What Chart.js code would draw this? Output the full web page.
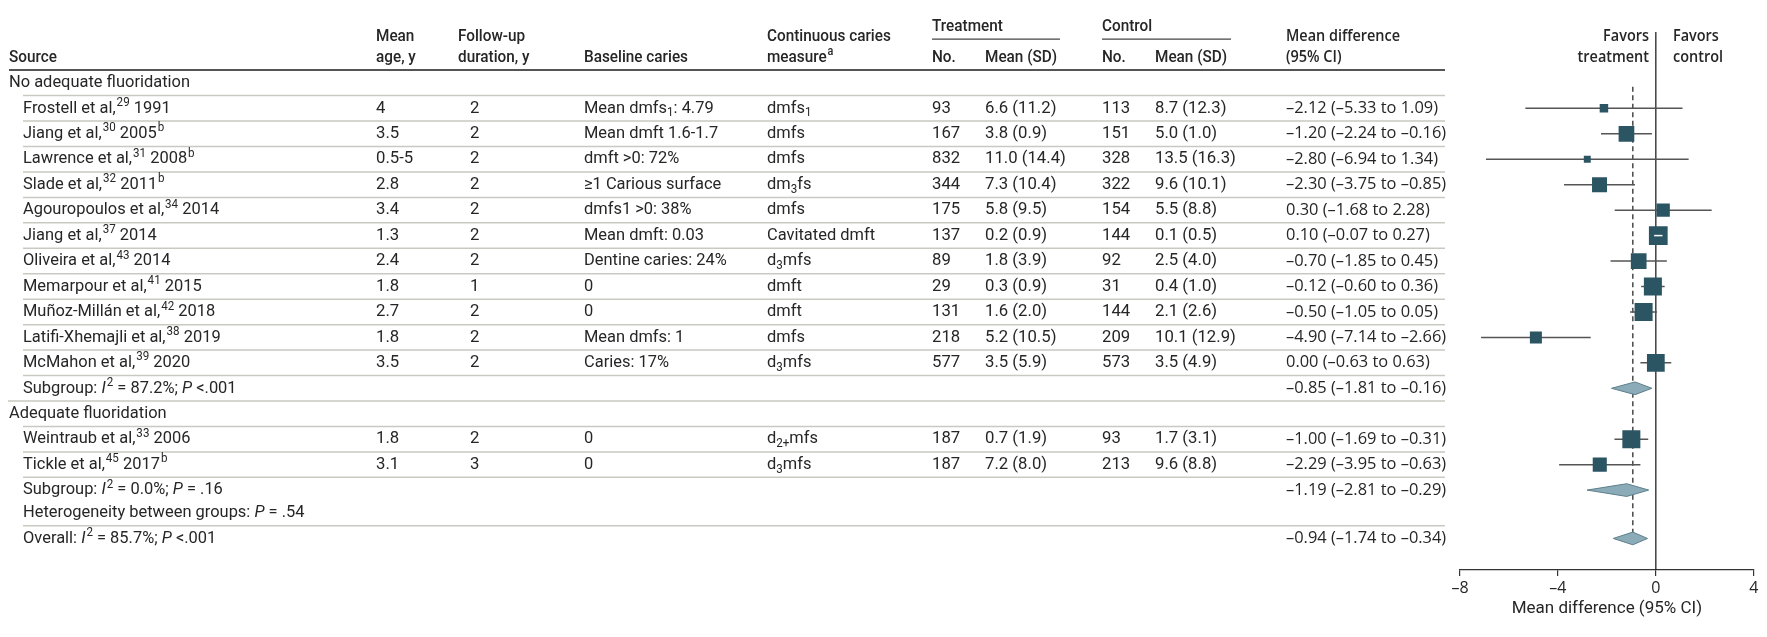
<!DOCTYPE html>
<html>
<head>
<meta charset="utf-8">
<script src="https://cdn.jsdelivr.net/npm/chart.js@4.4.0/dist/chart.umd.min.js"></script>
<style>
  html, body { margin: 0; padding: 0; background: #fff; }
  #wrap { width: 1767px; height: 637px; position: relative; }
</style>
</head>
<body>
<div id="wrap"><canvas id="forest"></canvas></div>
<script>
// ---- data ----
const studies = ['Frostell et al,^{29} 1991', 'Jiang et al,^{30} 2005^{b}', 'Lawrence et al,^{31} 2008^{b}',
    'Slade et al,^{32} 2011^{b}', 'Agouropoulos et al,^{34} 2014', 'Jiang et al,^{37} 2014',
    'Oliveira et al,^{43} 2014', 'Memarpour et al,^{41} 2015', 'Muñoz-Millán et al,^{42} 2018',
    'Latifi-Xhemajli et al,^{38} 2019', 'McMahon et al,^{39} 2020', 'Weintraub et al,^{33} 2006',
    'Tickle et al,^{45} 2017^{b}'];
const meanAge = ['4', '3.5', '0.5-5', '2.8', '3.4', '1.3', '2.4', '1.8', '2.7', '1.8', '3.5', '1.8', '3.1'];
const followUp = ['2', '2', '2', '2', '2', '2', '2', '1', '2', '2', '2', '2', '3'];
const baseline = ['Mean dmfs_{1}: 4.79', 'Mean dmft 1.6-1.7', 'dmft >0: 72%', '≥1 Carious surface',
    'dmfs1 >0: 38%', 'Mean dmft: 0.03', 'Dentine caries: 24%', '0', '0', 'Mean dmfs: 1', 'Caries: 17%', '0', '0'];
const measure = ['dmfs_{1}', 'dmfs', 'dmfs', 'dm_{3}fs', 'dmfs', 'Cavitated dmft', 'd_{3}mfs', 'dmft', 'dmft',
    'dmfs', 'd_{3}mfs', 'd_{2+}mfs', 'd_{3}mfs'];
const trtN = [93, 167, 832, 344, 175, 137, 89, 29, 131, 218, 577, 187, 187];
const trtMean = ['6.6 (11.2)', '3.8 (0.9)', '11.0 (14.4)', '7.3 (10.4)', '5.8 (9.5)', '0.2 (0.9)', '1.8 (3.9)',
    '0.3 (0.9)', '1.6 (2.0)', '5.2 (10.5)', '3.5 (5.9)', '0.7 (1.9)', '7.2 (8.0)'];
const ctlN = [113, 151, 328, 322, 154, 144, 92, 31, 144, 209, 573, 93, 213];
const ctlMean = ['8.7 (12.3)', '5.0 (1.0)', '13.5 (16.3)', '9.6 (10.1)', '5.5 (8.8)', '0.1 (0.5)', '2.5 (4.0)',
    '0.4 (1.0)', '2.1 (2.6)', '10.1 (12.9)', '3.5 (4.9)', '1.7 (3.1)', '9.6 (8.8)'];
const md   = [-2.12, -1.20, -2.80, -2.30, 0.30, 0.10, -0.70, -0.12, -0.50, -4.90, 0.00, -1.00, -2.29];
const mdLo = [-5.33, -2.24, -6.94, -3.75, -1.68, -0.07, -1.85, -0.60, -1.05, -7.14, -0.63, -1.69, -3.95];
const mdHi = [1.09, -0.16, 1.34, -0.85, 2.28, 0.27, 0.45, 0.36, 0.05, -2.66, 0.63, -0.31, -0.63];
const weights = [2.4, 8.2, 1.6, 7.5, 5.9, 11.7, 8.2, 10.8, 10.8, 4.8, 10.5, 10.8, 6.6];

const groups = ['No adequate fluoridation', 'Adequate fluoridation'];
const summaryLabels = ['Subgroup: *I*^{2} = 87.2%; *P* <.001', 'Subgroup: *I*^{2} = 0.0%; *P* = .16',
    'Overall: *I*^{2} = 85.7%; *P* <.001'];
const hetLabel = 'Heterogeneity between groups: *P* = .54';
const sumEst = [-0.85, -1.19, -0.94];
const sumLo  = [-1.81, -2.81, -1.74];
const sumHi  = [-0.16, -0.29, -0.34];
const xTicks = [-8, -4, 0, 4];

// ---- layout ----
const STUDY_ROWS = [1, 2, 3, 4, 5, 6, 7, 8, 9, 10, 11, 14, 15];
const GROUP_ROWS = [0, 13];
const SUMMARY_ROWS = [12, 16, 17.9];
const HET_ROW = 16.9;
const SEPARATORS = [[0.5, 23], [1.5, 23], [2.5, 23], [3.5, 23], [4.5, 23], [5.5, 23], [6.5, 23], [7.5, 23],
    [8.5, 23], [9.5, 23], [10.5, 23], [11.5, 23], [12.5, 8], [13.5, 23], [14.5, 23], [15.5, 23], [17.4, 23]];
const HDR1 = -1.83, HDR2 = -1.0, HDR_TOP = -2.21, HDR_UNDER = -1.72, HDR_RULE = -0.51;
const COL = { source: 9, study: 23, age: 376, follow: 458, followVal: 470, base: 584, measure: 767,
    tN: 932, tMean: 985, tEnd: 1060, cN: 1102, cMean: 1155, cEnd: 1231, md: 1286, tableEnd: 1445,
    favT: 1649, favC: 1673 };

const TEXT = '#262626';
const LEFT_FONT = 'Roboto, "Noto Sans", sans-serif';
const RIGHT_FONT = '"Open Sans", "Noto Sans", sans-serif';
const SQUARE = '#2c5563';
const DIAMOND_FILL = '#8aabb7';
const DIAMOND_LINE = '#5d7f8b';
const DIAMOND_HALF = 0.25;

function fmt(v) { return v.toFixed(2).replace('-', '–'); }
function sideFor(w) { return 5.48 * Math.sqrt(w); }

function parseRich(s) {
    const out = [];
    let i = 0, buf = '', it = false;
    const flush = () => { if (buf) { out.push({ t: buf, it: it }); buf = ''; } };
    while (i < s.length) {
        const c = s[i];
        if ((c === '^' || c === '_') && s[i + 1] === '{') {
            flush();
            const end = s.indexOf('}', i);
            out.push({ t: s.slice(i + 2, end), sup: c === '^', sub: c === '_', it: it });
            i = end + 1;
        } else if (c === '*') { flush(); it = !it; i++; }
        else { buf += c; i++; }
    }
    flush();
    return out;
}

function richText(ctx, str, x, y, o) {
    const parts = parseRich(String(str));
    const fontFor = p => (p.it ? 'italic ' : '') + (o.weight || 400) + ' ' +
        ((p.sup || p.sub) ? Math.round(o.size * 0.7) : o.size) + 'px ' + o.family;
    let w = 0;
    parts.forEach(p => { ctx.font = fontFor(p); p.w = ctx.measureText(p.t).width; w += p.w; });
    ctx.save();
    ctx.translate(x - (o.align === 'right' ? w * o.sx : 0), y);
    ctx.scale(o.sx, 1);
    ctx.textBaseline = 'middle';
    ctx.textAlign = 'left';
    ctx.fillStyle = TEXT;
    let cx = 0;
    parts.forEach(p => {
        ctx.font = fontFor(p);
        const dy = p.sup ? -o.size * 0.32 : p.sub ? o.size * 0.3 : 0;
        ctx.fillText(p.t, cx + (p.sup && cx > 0 ? 1 : 0), dy);
        cx += p.w + (p.sup ? 1 : 0);
    });
    ctx.restore();
}

function hline(ctx, x0, x1, y) {
    ctx.beginPath(); ctx.moveTo(x0, y); ctx.lineTo(x1, y); ctx.stroke();
}

function fitScale(ctx, font, sample, target) {
    ctx.font = font;
    return target / ctx.measureText(sample).width;
}

const tablePlugin = {
    id: 'forestTable',
    beforeDatasetsDraw(chart) {
        const ctx = chart.ctx, y = chart.scales.y;
        ctx.save();
        ctx.strokeStyle = '#c9c9c2'; ctx.lineWidth = 1.5;
        SEPARATORS.forEach(s => hline(ctx, s[1], COL.tableEnd, y.getPixelForValue(s[0])));
        ctx.strokeStyle = '#555'; ctx.lineWidth = 2;
        hline(ctx, COL.source, COL.tableEnd, y.getPixelForValue(HDR_RULE));
        ctx.strokeStyle = '#444'; ctx.lineWidth = 1.3;
        hline(ctx, COL.tN, COL.tEnd, y.getPixelForValue(HDR_UNDER));
        hline(ctx, COL.cN, COL.cEnd, y.getPixelForValue(HDR_UNDER));
        ctx.restore();
    },
    afterDatasetsDraw(chart) {
        // CI that fits inside its square is shown as a white bar
        const ctx = chart.ctx, x = chart.scales.x, y = chart.scales.y;
        ctx.save();
        ctx.strokeStyle = '#ffffff'; ctx.lineWidth = 1.5;
        md.forEach((m, i) => {
            const a = x.getPixelForValue(mdLo[i]), b = x.getPixelForValue(mdHi[i]);
            if (b - a < sideFor(weights[i]) - 2) hline(ctx, a, b, y.getPixelForValue(STUDY_ROWS[i]));
        });
        ctx.restore();
    },
    afterDraw(chart) {
        const ctx = chart.ctx, y = chart.scales.y;
        const sxL = fitScale(ctx, '400 17px ' + LEFT_FONT, 'No adequate fluoridation', 181);
        const sxN = fitScale(ctx, '400 17px ' + LEFT_FONT, '6.6 (11.2)', 71.5);
        const sxH = fitScale(ctx, '500 17px ' + LEFT_FONT, 'Baseline caries', 104);
        const sxR = fitScale(ctx, '400 16px ' + RIGHT_FONT, '–2.12 (–5.33 to 1.09)', 152);
        const sxRH = fitScale(ctx, '600 16px ' + RIGHT_FONT, 'Mean difference', 114);
        const L = { family: LEFT_FONT, size: 17, sx: sxL };
        const N = { family: LEFT_FONT, size: 17, sx: sxN };
        const H = { family: LEFT_FONT, size: 17, sx: sxH, weight: 500 };
        const R = { family: RIGHT_FONT, size: 16, sx: sxR };
        const RH = { family: RIGHT_FONT, size: 16, sx: sxRH, weight: 600 };
        const py = v => y.getPixelForValue(v);

        // header
        richText(ctx, 'Source', COL.source, py(HDR2), H);
        richText(ctx, 'Mean', COL.age, py(HDR1), H);
        richText(ctx, 'age, y', COL.age, py(HDR2), H);
        richText(ctx, 'Follow-up', COL.follow, py(HDR1), H);
        richText(ctx, 'duration, y', COL.follow, py(HDR2), H);
        richText(ctx, 'Baseline caries', COL.base, py(HDR2), H);
        richText(ctx, 'Continuous caries', COL.measure, py(HDR1), H);
        richText(ctx, 'measure^{a}', COL.measure, py(HDR2), H);
        richText(ctx, 'Treatment', COL.tN, py(HDR_TOP), H);
        richText(ctx, 'No.', COL.tN, py(HDR2), H);
        richText(ctx, 'Mean (SD)', COL.tMean, py(HDR2), H);
        richText(ctx, 'Control', COL.cN, py(HDR_TOP), H);
        richText(ctx, 'No.', COL.cN, py(HDR2), H);
        richText(ctx, 'Mean (SD)', COL.cMean, py(HDR2), H);
        richText(ctx, 'Mean difference', COL.md, py(HDR1), RH);
        richText(ctx, '(95% CI)', COL.md, py(HDR2), RH);
        richText(ctx, 'Favors', COL.favT, py(HDR1), Object.assign({ align: 'right' }, RH));
        richText(ctx, 'treatment', COL.favT, py(HDR2), Object.assign({ align: 'right' }, RH));
        richText(ctx, 'Favors', COL.favC, py(HDR1), RH);
        richText(ctx, 'control', COL.favC, py(HDR2), RH);

        groups.forEach((g, i) => richText(ctx, g, COL.source, py(GROUP_ROWS[i]), L));
        studies.forEach((s, i) => {
            const r = py(STUDY_ROWS[i]);
            richText(ctx, s, COL.study, r, L);
            richText(ctx, meanAge[i], COL.age, r, N);
            richText(ctx, followUp[i], COL.followVal, r, N);
            richText(ctx, baseline[i], COL.base, r, L);
            richText(ctx, measure[i], COL.measure, r, L);
            richText(ctx, trtN[i], COL.tN, r, N);
            richText(ctx, trtMean[i], COL.tMean, r, N);
            richText(ctx, ctlN[i], COL.cN, r, N);
            richText(ctx, ctlMean[i], COL.cMean, r, N);
            richText(ctx, fmt(md[i]) + ' (' + fmt(mdLo[i]) + ' to ' + fmt(mdHi[i]) + ')', COL.md, r, R);
        });
        summaryLabels.forEach((s, i) => {
            const r = py(SUMMARY_ROWS[i]);
            richText(ctx, s, COL.study, r, L);
            richText(ctx, fmt(sumEst[i]) + ' (' + fmt(sumLo[i]) + ' to ' + fmt(sumHi[i]) + ')', COL.md, r, R);
        });
        richText(ctx, hetLabel, COL.study, py(HET_ROW), L);
    }
};

// ---- datasets built from the arrays ----
const ciPoints = [];
md.forEach((m, i) => {
    ciPoints.push({ x: mdLo[i], y: STUDY_ROWS[i] }, { x: mdHi[i], y: STUDY_ROWS[i] }, { x: null, y: null });
});
const diamondPoints = [];
sumEst.forEach((m, i) => {
    const r = SUMMARY_ROWS[i];
    diamondPoints.push({ x: sumLo[i], y: r }, { x: m, y: r - DIAMOND_HALF }, { x: sumHi[i], y: r },
        { x: m, y: r + DIAMOND_HALF }, { x: sumLo[i], y: r }, { x: null, y: null });
});
const overall = sumEst[sumEst.length - 1];

new Chart(document.getElementById('forest'), {
    type: 'scatter',
    data: {
        datasets: [{
            label: 'No effect',
            data: [{ x: 0, y: -2.0 }, { x: 0, y: 19.14 }],
            showLine: true, borderColor: '#222', borderWidth: 1.3, pointRadius: 0, order: 6
        }, {
            label: 'Overall estimate',
            data: [{ x: overall, y: 0.15 }, { x: overall, y: SUMMARY_ROWS[2] }],
            showLine: true, borderColor: '#3a3a3a', borderWidth: 1.4, borderDash: [5, 3.5], pointRadius: 0, order: 5
        }, {
            label: '95% CI',
            data: ciPoints,
            showLine: true, spanGaps: false, borderColor: '#555', borderWidth: 1.5, pointRadius: 0, order: 4
        }, {
            label: 'Pooled',
            data: diamondPoints,
            showLine: true, spanGaps: false, fill: 'shape', clip: false,
            backgroundColor: DIAMOND_FILL, borderColor: DIAMOND_LINE, borderWidth: 1, pointRadius: 0, order: 3
        }, {
            label: 'Study',
            data: md.map((m, i) => ({ x: m, y: STUDY_ROWS[i] })),
            pointStyle: 'rect', pointRadius: weights.map(w => sideFor(w) / Math.SQRT2),
            pointBorderWidth: 0, backgroundColor: SQUARE, borderColor: SQUARE, order: 1
        }]
    },
    options: {
        responsive: true,
        maintainAspectRatio: false,
        animation: false,
        events: [],
        layout: { padding: { left: 1460, right: 5, top: 32, bottom: 14 } },
        plugins: { legend: { display: false }, tooltip: { enabled: false } },
        scales: {
            x: {
                type: 'linear', min: -8, max: 4,
                afterBuildTicks: s => { s.ticks = xTicks.map(v => ({ value: v })); },
                ticks: {
                    padding: 3, color: TEXT, maxRotation: 0, autoSkip: false,
                    font: { family: RIGHT_FONT, size: 16 },
                    callback: v => String(v).replace('-', '–')
                },
                grid: { drawOnChartArea: false, drawTicks: true, tickLength: 6, color: '#333', lineWidth: 1.2 },
                border: { display: true, color: '#333', width: 1.2 },
                title: {
                    display: true, text: 'Mean difference (95% CI)', color: TEXT,
                    font: { family: LEFT_FONT, size: 17 }, padding: { top: 4, bottom: 4 }
                },
                afterFit: s => { s.height = 53; }
            },
            y: { type: 'linear', min: -2.0, max: 19.14, reverse: true, display: false }
        }
    },
    plugins: [tablePlugin]
});
</script>
</body>
</html>
